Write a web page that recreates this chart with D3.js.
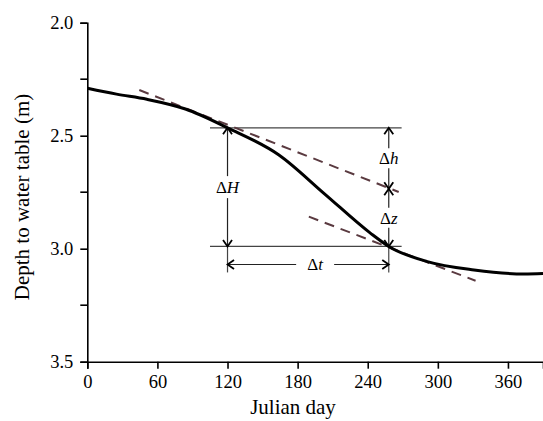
<!DOCTYPE html>
<html>
  <head>
    <meta charset="utf-8">
    <title>Depth to water table</title>
    <script src="https://d3js.org/d3.v7.min.js"></script>
    <style>
      body { margin: 0; background: #fff; }
      svg text { font-family: "Liberation Serif", "Times New Roman", serif; fill: #000; }
      .axis .tick text { font-size: 18.5px; }
      .axis path, .axis line { stroke: #000; stroke-width: 1.6px; }
      .curve { fill: none; stroke: #000; stroke-width: 3px; }
      .tangent { fill: none; stroke: #5a3a40; stroke-width: 2px; stroke-dasharray: 10 7; }
      .guide { stroke: #444; stroke-width: 1.2px; }
      .arrow { stroke: #222; stroke-width: 1.2px; }
      .sym { font-size: 17px; }
      .title { font-size: 21px; }
    </style>
  </head>
  <body>
    <svg id="chart" width="543" height="421">
      <defs>
        <marker id="head" viewBox="-8 -6 10 12" refX="0" refY="0" markerWidth="10" markerHeight="12"
                markerUnits="userSpaceOnUse" orient="auto-start-reverse">
          <path d="M-6.5,-4.5 L0,0 L-6.5,4.5" fill="none" stroke="#000" stroke-width="1.8"></path>
        </marker>
      </defs>
    </svg>
    <script>
      // data
      days = [0, 25, 51, 84, 120, 164, 203, 242, 258, 291, 331, 374, 390];
      depth = [2.29, 2.316, 2.339, 2.382, 2.465, 2.585, 2.757, 2.93, 2.99, 3.057, 3.094, 3.112, 3.11];
      tangent1 = [[44.5, 2.298], [266.5, 2.749]];
      tangent2 = [[189.6, 2.858], [332.3, 3.142]];
      xTicks = [0, 60, 120, 180, 240, 300, 360];
      yTicks = [2.0, 2.5, 3.0, 3.5];
      yMinor = [2.25, 2.75, 3.25];
      // annotation positions (days / depths)
      t1 = 120, t2 = 258;
      h1 = 2.465, h2 = 2.99, hMid = 2.735;
      guideFrom = 105, guideTo = 269;
      dtDepth = 3.07, vEnd = 3.105;

      svg = d3.select("#chart");
      x = d3.scaleLinear().domain([0, 390]).range([87.3, 543]);
      y = d3.scaleLinear().domain([2.0, 3.5]).range([22.7, 361.7]);

      // axes
      svg.append("g")
        .attr("class", "axis")
        .attr("transform", "translate(0," + y(3.5) + ")")
        .call(d3.axisBottom(x).tickValues(xTicks).tickFormat(d3.format("d")).tickSizeOuter(0).tickSize(7).tickPadding(6));
      yAxis = svg.append("g")
        .attr("class", "axis")
        .attr("transform", "translate(" + x(0) + ",0)")
        .call(d3.axisLeft(y).tickValues(yTicks).tickFormat(d3.format(".1f")).tickSizeOuter(0).tickSize(7).tickPadding(7));
      yAxis.selectAll(".minor")
        .data(yMinor)
        .enter().append("line")
          .attr("class", "minor")
          .attr("x1", -7).attr("x2", 0)
          .attr("y1", function(d) { return y(d); })
          .attr("y2", function(d) { return y(d); });
      yAxis.selectAll(".tick text").attr("dy", "0.34em");

      svg.append("text")
        .attr("class", "title")
        .attr("transform", "translate(29,197) rotate(-90)")
        .attr("text-anchor", "middle")
        .text("Depth to water table (m)");
      svg.append("text")
        .attr("class", "title")
        .attr("x", 293)
        .attr("y", 414)
        .attr("text-anchor", "middle")
        .text("Julian day");

      // guide lines
      [h1, h2].forEach(function(h) {
        svg.append("line").attr("class", "guide")
          .attr("x1", x(guideFrom)).attr("x2", x(guideTo))
          .attr("y1", y(h)).attr("y2", y(h));
      });
      [t1, t2].forEach(function(t) {
        svg.append("line").attr("class", "guide")
          .attr("x1", x(t)).attr("x2", x(t))
          .attr("y1", y(h2)).attr("y2", y(vEnd));
      });

      // double arrow with a label in a gap
      function vArrow(t, a, b, gap, label) {
        var mid = (y(a) + y(b)) / 2;
        svg.append("line").attr("class", "arrow")
          .attr("x1", x(t)).attr("x2", x(t))
          .attr("y1", mid - gap).attr("y2", y(a))
          .attr("marker-end", "url(#head)");
        svg.append("line").attr("class", "arrow")
          .attr("x1", x(t)).attr("x2", x(t))
          .attr("y1", mid + gap).attr("y2", y(b))
          .attr("marker-end", "url(#head)");
        sym(x(t), mid, label);
      }
      function sym(cx, cy, label) {
        var t = svg.append("text").attr("class", "sym")
          .attr("x", cx).attr("y", cy)
          .attr("dy", "0.35em")
          .attr("text-anchor", "middle");
        t.append("tspan").text("\u0394");
        t.append("tspan").style("font-style", "italic").text(label);
      }
      vArrow(t1, h1, h2, 11, "H");
      vArrow(t2, h1, hMid, 10, "h");
      vArrow(t2, hMid, h2, 10, "z");

      // Δt arrow
      dtX = (x(t1) + x(t2)) / 2;
      svg.append("line").attr("class", "arrow")
        .attr("x1", dtX - 12).attr("x2", x(t1))
        .attr("y1", y(dtDepth)).attr("y2", y(dtDepth))
        .attr("marker-end", "url(#head)");
      svg.append("line").attr("class", "arrow")
        .attr("x1", dtX + 26).attr("x2", x(t2))
        .attr("y1", y(dtDepth)).attr("y2", y(dtDepth))
        .attr("marker-end", "url(#head)");
      sym(dtX + 7, y(dtDepth), "t");

      // tangent lines
      line = d3.line()
        .x(function(d) { return x(d[0]); })
        .y(function(d) { return y(d[1]); });
      [tangent1, tangent2].forEach(function(tg) {
        svg.append("path").attr("class", "tangent").attr("d", line(tg));
      });

      // water table curve
      curve = d3.line()
        .x(function(d, i) { return x(days[i]); })
        .y(function(d) { return y(d); })
        .curve(d3.curveMonotoneX);
      svg.append("path").attr("class", "curve").attr("d", curve(depth));
    </script>
  </body>
</html>
